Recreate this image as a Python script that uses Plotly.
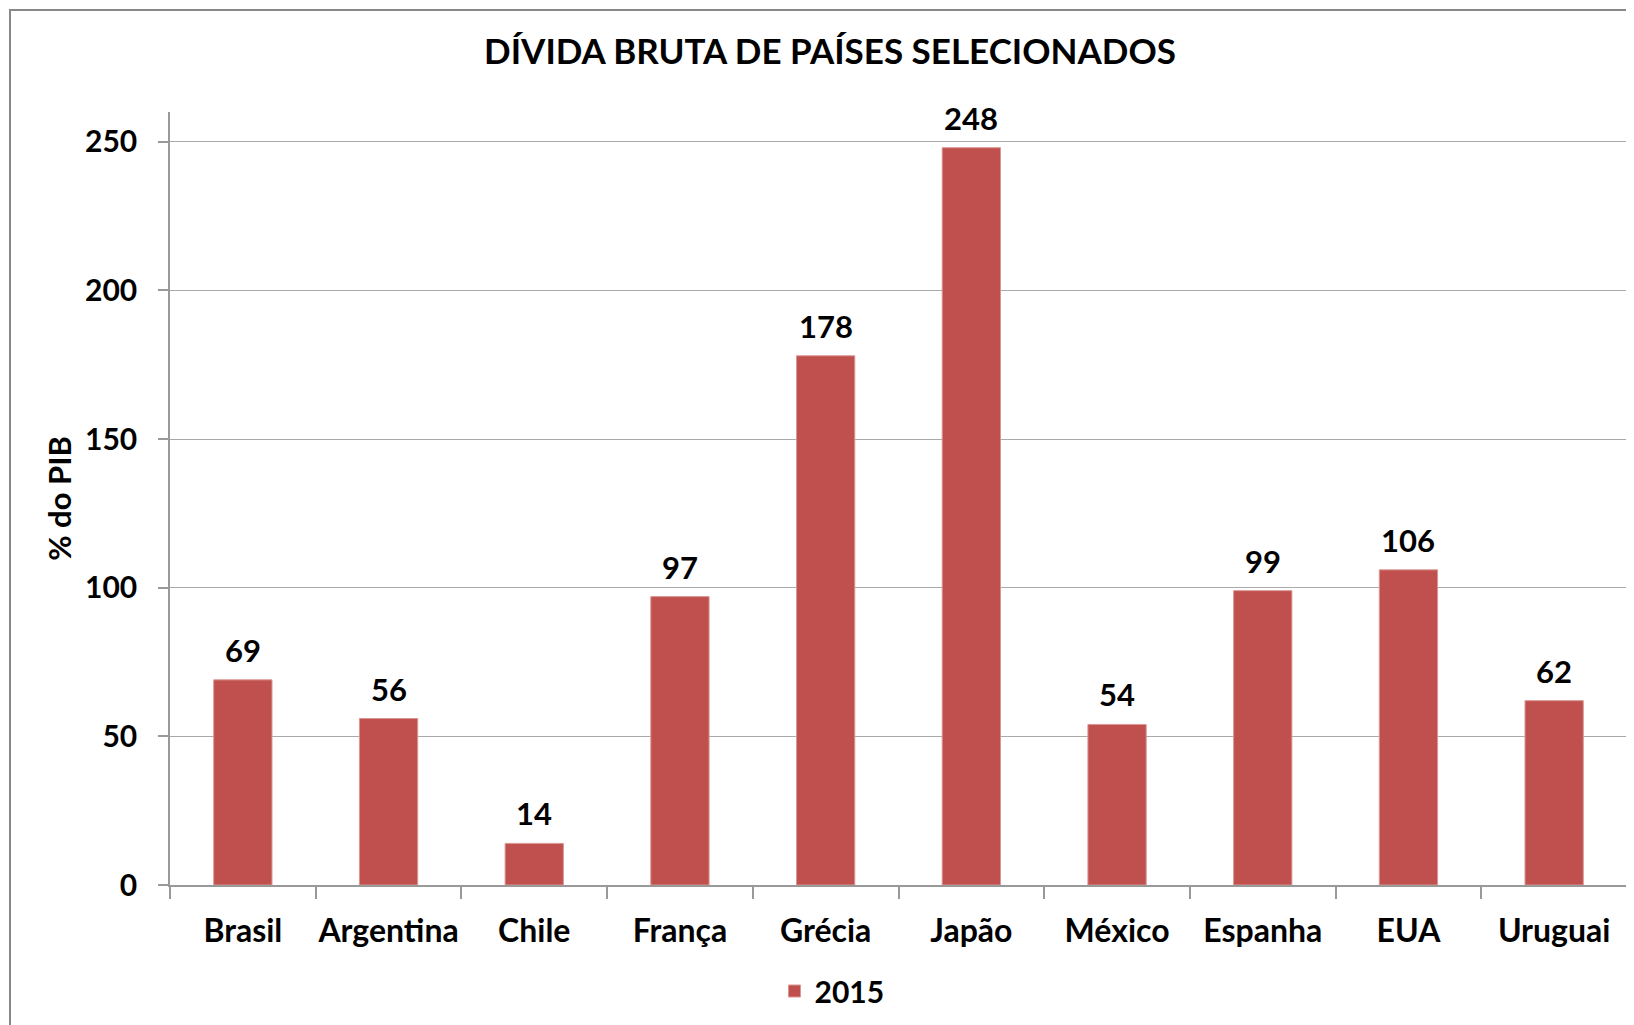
import plotly.graph_objects as go

categories = ["Brasil", "Argentina", "Chile", "França", "Grécia", "Japão", "México", "Espanha", "EUA", "Uruguai"]
values_2015 = [69, 56, 14, 97, 178, 248, 54, 99, 106, 62]
series_name = "2015"
title_text = "DÍVIDA BRUTA DE PAÍSES SELECIONADOS"
y_title = "% do PIB"

# The page body adds an 8px margin; work in screen coordinates and subtract it.
OFF = 8
W, H = 1634 - OFF, 1025 - OFF
PL, PR, PT, PB = 170, 1627, 112, 885          # plot area in screen px
ML, MR, MT, MB = PL - OFF, W - (PR - OFF), PT - OFF, H - (PB - OFF)
PW, PH = PR - PL, PB - PT

FONT = "Lato"
BAR_COLOR = "#C0504D"


def px_x(sx):
    return (sx - PL) / PW


def px_y(sy):
    return (PB - sy) / PH


fig = go.Figure()
fig.add_trace(go.Bar(
    x=categories, y=values_2015, name=series_name,
    marker=dict(color=BAR_COLOR, line=dict(color="#D99694", width=1)),
    showlegend=True,
))

for c, v in zip(categories, values_2015):
    fig.add_annotation(x=c, y=v, text=str(v), showarrow=False,
                       xref="x", yref="y", yanchor="bottom", yshift=9,
                       font=dict(family=FONT, size=31, color="black", weight="bold"))

# chart frame
fig.add_shape(type="rect", xref="paper", yref="paper",
              x0=px_x(10), x1=px_x(1660), y0=px_y(1050), y1=px_y(10),
              line=dict(color="#888888", width=2), fillcolor="rgba(0,0,0,0)", layer="below")

fig.update_layout(
    width=W, height=H,
    margin=dict(l=ML, r=MR, t=MT, b=MB),
    paper_bgcolor="white", plot_bgcolor="white",
    bargap=0.6,
    font=dict(family=FONT, size=30, color="black", weight="bold"),
    title=dict(text=title_text, x=(830 - OFF) / W, xanchor="center", y=1 - (52 - OFF) / H, yanchor="middle",
               font=dict(family=FONT, size=35, color="black", weight="bold")),
    legend=dict(orientation="h", x=px_x(832), xanchor="center",
                y=px_y(991), yanchor="middle",
                font=dict(family=FONT, size=30, color="black", weight="bold"),
                bgcolor="rgba(0,0,0,0)"),
    xaxis=dict(showline=True, linecolor="#999999", linewidth=1.5, automargin=False, tickangle=0,
               ticks="outside", tickson="boundaries", ticklen=12, tickcolor="#999999", tickwidth=1.5,
               showgrid=False, ticklabelstandoff=17,
               tickfont=dict(family=FONT, size=32, color="black", weight="bold")),
    yaxis=dict(range=[0, 260], dtick=50, tick0=0, showline=True, linecolor="#999999", linewidth=1.5,
               automargin=False,
               ticks="outside", ticklen=10, tickcolor="#999999", tickwidth=1.5,
               showgrid=True, gridcolor="#AAAAAA", gridwidth=1.2, zeroline=False,
               ticklabelstandoff=15,
               tickfont=dict(family=FONT, size=30, color="black", weight="bold"),
               title=dict(text=y_title, standoff=4,
                          font=dict(family=FONT, size=31, color="black", weight="bold"))),
)

fig.write_html("out.html")
